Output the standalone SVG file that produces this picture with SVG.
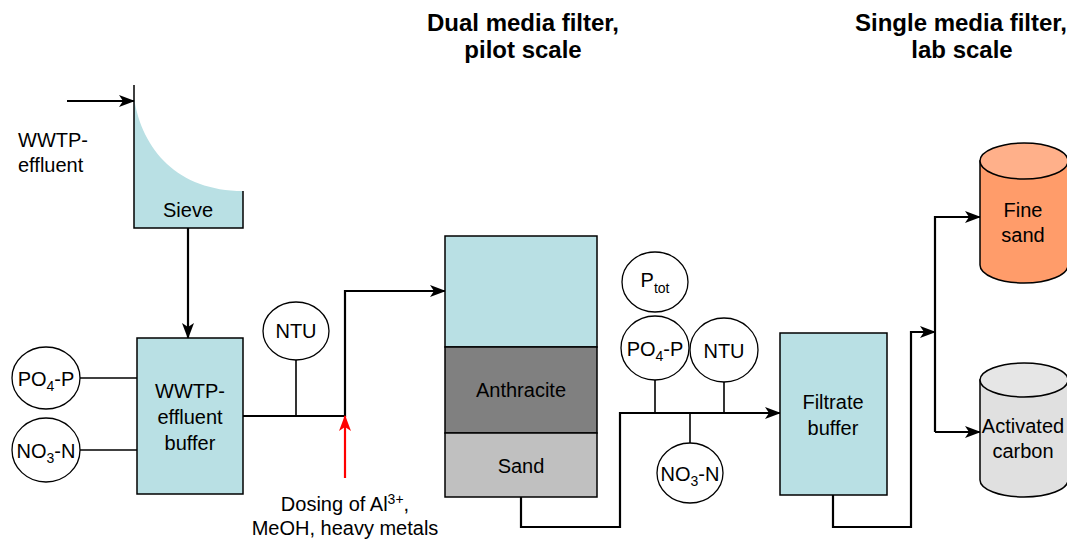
<svg xmlns="http://www.w3.org/2000/svg" width="1067" height="540" viewBox="0 0 1067 540">
<style>
text{font-family:"Liberation Sans",Arial,Helvetica,sans-serif;font-size:20px;fill:#000;text-anchor:middle}
.t{font-weight:bold;font-size:24px}
.flow{fill:none;stroke:#000;stroke-width:2.2}
.thin{fill:none;stroke:#000;stroke-width:1.6}
.box{fill:#B9E0E4;stroke:#000;stroke-width:1.5}
.circ{fill:#fff;stroke:#000;stroke-width:1.3}
.sub{font-size:14px}
</style>
<defs>
<marker id="ah" markerUnits="userSpaceOnUse" viewBox="0 0 16 12" refX="15" refY="6" markerWidth="16" markerHeight="12" orient="auto">
<path d="M0,0 L16,6 L0,12 L4,6 Z" fill="#000"/>
</marker>
<marker id="ahr" markerUnits="userSpaceOnUse" viewBox="0 0 16 12" refX="15" refY="6" markerWidth="16" markerHeight="12" orient="auto">
<path d="M0,0 L16,6 L0,12 L4,6 Z" fill="#FF0000"/>
</marker>
</defs>

<g id="titles">
<text class="t" x="523" y="31">Dual media filter,</text>
<text class="t" x="523" y="58">pilot scale</text>
<text class="t" x="961" y="31">Single media filter,</text>
<text class="t" x="962" y="58">lab scale</text>
</g>

<g id="connectors">
<path class="flow" d="M67,101 L134,101" marker-end="url(#ah)"/>
<path class="flow" d="M188,228 L188,338" marker-end="url(#ah)"/>
<path class="flow" d="M243,416 L345,416 L345,291 L445,291" marker-end="url(#ah)"/>
<path class="thin" d="M296,360 L296,416"/>
<path class="thin" d="M80,378 L137,378"/>
<path class="thin" d="M80,450 L137,450"/>
<path fill="none" stroke="#FF0000" stroke-width="2.2" d="M345,478 L345,416" marker-end="url(#ahr)"/>
<path class="flow" d="M521,497 L521,527 L620,527 L620,413 L780,413" marker-end="url(#ah)"/>
<path class="thin" d="M655,380 L655,413"/>
<path class="thin" d="M724,382 L724,413"/>
<path class="thin" d="M690,413 L690,443"/>
<path class="flow" d="M833,495 L833,527 L911,527 L911,332 L935,332" marker-end="url(#ah)"/>
<path class="flow" d="M935,432 L935,217 L980,217" marker-end="url(#ah)"/>
<path class="flow" d="M935,432 L980,432" marker-end="url(#ah)"/>
</g>

<g id="inlet-label">
<text x="18" y="147" style="text-anchor:start">WWTP-</text>
<text x="18" y="172" style="text-anchor:start">effluent</text>
</g>

<g id="sieve">
<path d="M134,98 C142,150 178,191 243,191 L243,228 L134,228 Z" fill="#B9E0E4"/>
<path d="M134,85 L134,228 L243,228 L243,191" fill="none" stroke="#000" stroke-width="1.5"/>
<text x="188" y="217">Sieve</text>
</g>

<g id="effluent-buffer">
<rect class="box" x="137" y="338" width="106" height="156"/>
<text x="190" y="398">WWTP-</text>
<text x="190" y="424">effluent</text>
<text x="190" y="450">buffer</text>
</g>

<g id="po4p-1">
<ellipse class="circ" cx="46" cy="378" rx="34" ry="31"/>
<text x="46" y="386">PO<tspan class="sub" dy="5">4</tspan><tspan dy="-5">-P</tspan></text>
</g>
<g id="no3n-1">
<ellipse class="circ" cx="46" cy="450" rx="34" ry="32"/>
<text x="46" y="458">NO<tspan class="sub" dy="5">3</tspan><tspan dy="-5">-N</tspan></text>
</g>
<g id="ntu-1">
<ellipse class="circ" cx="296" cy="331" rx="33" ry="29"/>
<text x="296" y="338">NTU</text>
</g>

<g id="dosing-label">
<text x="345" y="511">Dosing of Al<tspan class="sub" dy="-7">3+</tspan><tspan dy="7">,</tspan></text>
<text x="345" y="535">MeOH, heavy metals</text>
</g>

<g id="dual-media-filter">
<rect x="445" y="236" width="152" height="111" fill="#B9E0E4" stroke="#000" stroke-width="1.5"/>
<rect x="445" y="347" width="152" height="86" fill="#808080" stroke="#000" stroke-width="1.5"/>
<rect x="445" y="433" width="152" height="64" fill="#C0C0C0" stroke="#000" stroke-width="1.5"/>
<text x="521" y="397">Anthracite</text>
<text x="521" y="473">Sand</text>
</g>

<g id="ptot">
<ellipse class="circ" cx="655" cy="282" rx="33" ry="30"/>
<text x="655" y="287">P<tspan class="sub" dy="6">tot</tspan></text>
</g>
<g id="po4p-2">
<ellipse class="circ" cx="655" cy="348" rx="34" ry="32"/>
<text x="655" y="356">PO<tspan class="sub" dy="5">4</tspan><tspan dy="-5">-P</tspan></text>
</g>
<g id="ntu-2">
<ellipse class="circ" cx="724" cy="350" rx="34" ry="32"/>
<text x="724" y="358">NTU</text>
</g>
<g id="no3n-2">
<ellipse class="circ" cx="690" cy="473" rx="33" ry="30"/>
<text x="690" y="481">NO<tspan class="sub" dy="5">3</tspan><tspan dy="-5">-N</tspan></text>
</g>

<g id="filtrate-buffer">
<rect class="box" x="780" y="333" width="107" height="162"/>
<text x="833" y="409">Filtrate</text>
<text x="833" y="435">buffer</text>
</g>

<g id="fine-sand">
<path d="M980,161 L980,265 A44,18 0 0 0 1068,265 L1068,161 Z" fill="#FF9C6A" stroke="#000" stroke-width="1.5"/>
<ellipse cx="1024" cy="161" rx="44" ry="18" fill="#FFB08A" stroke="#000" stroke-width="1.5"/>
<text x="1023" y="217">Fine</text>
<text x="1023" y="242">sand</text>
</g>

<g id="activated-carbon">
<path d="M980,380 L980,480 A44,17 0 0 0 1068,480 L1068,380 Z" fill="#E0E0E0" stroke="#000" stroke-width="1.5"/>
<ellipse cx="1024" cy="380" rx="44" ry="17" fill="#E6E6E6" stroke="#000" stroke-width="1.5"/>
<text x="1023" y="433">Activated</text>
<text x="1023" y="458">carbon</text>
</g>
</svg>
